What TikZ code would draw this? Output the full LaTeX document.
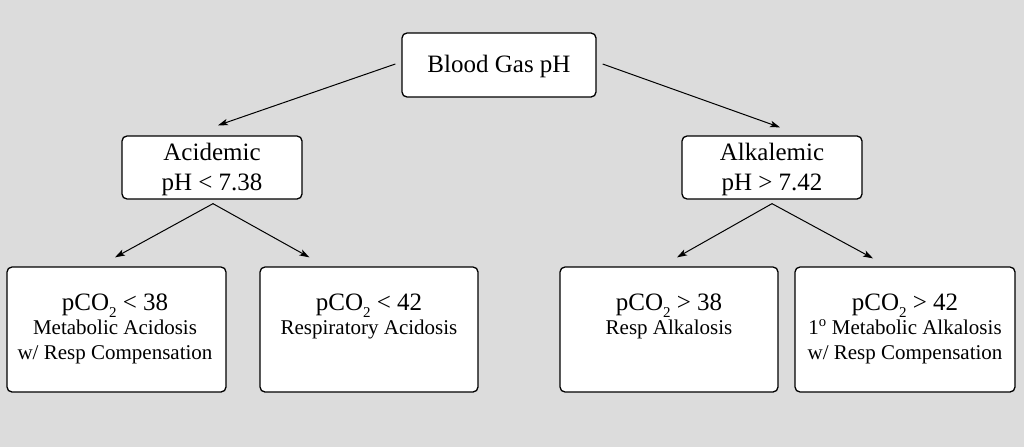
\documentclass[tikz,border=0pt]{standalone}
\usepackage{fontspec}
\setmainfont{Liberation Serif}
\usetikzlibrary{arrows.meta}
\definecolor{bggray}{HTML}{DCDCDC}
\newcommand{\subtwo}{\raisebox{-7pt}{\fontsize{15}{15}\selectfont 2}}
\tikzset{
  box/.style={draw=black, fill=white, line width=1.3pt, rounded corners=5pt, inner sep=0pt},
  big/.style={font=\fontsize{25}{30}\selectfont, anchor=base, inner sep=0pt},
  small/.style={font=\fontsize{21}{25}\selectfont, anchor=base, inner sep=0pt},
  conn/.style={line width=1pt, -{Stealth[length=10pt,width=6.5pt,inset=2.5pt]}}
}
\begin{document}
\begin{tikzpicture}[x=1pt,y=-1pt]
\fill[bggray] (0,0) rectangle (1024,447);
\useasboundingbox (0,0) rectangle (1024,447);
% boxes
\node[box, minimum width=194pt, minimum height=64pt] (bg) at (499,65) {};
\node[box, minimum width=180pt, minimum height=63pt] (acid) at (212,167.5) {};
\node[box, minimum width=180pt, minimum height=63pt] (alk) at (772,167.5) {};
\node[box, minimum width=219pt, minimum height=125pt] (b1) at (116.5,329.5) {};
\node[box, minimum width=218pt, minimum height=125pt] (b2) at (369,329.5) {};
\node[box, minimum width=218pt, minimum height=125pt] (b3) at (669,329.5) {};
\node[box, minimum width=220pt, minimum height=125pt] (b4) at (905,329.5) {};
% texts
\node[big] (tbg) at (499,72) {Blood Gas pH};
\node[big] (ta1) at (212,160) {Acidemic};
\node[big] (ta2) at (212,190) {pH < 7.38};
\node[big] (tk1) at (772,160) {Alkalemic};
\node[big] (tk2) at (772,190) {pH > 7.42};
\node[big] (t11) at (115,310) {pCO\subtwo{} < 38};
\node[small] (t12) at (115,334) {Metabolic Acidosis};
\node[small] (t13) at (115,359) {w/ Resp Compensation};
\node[big] (t21) at (369,310) {pCO\subtwo{} < 42};
\node[small] (t22) at (369,334) {Respiratory Acidosis};
\node[big] (t31) at (669,310) {pCO\subtwo{} > 38};
\node[small] (t32) at (669,334) {Resp Alkalosis};
\node[big] (t41) at (905,310) {pCO\subtwo{} > 42};
\node[small] (t42) at (905,334) {1\textsuperscript{o} Metabolic Alkalosis};
\node[small] (t43) at (905,359) {w/ Resp Compensation};
% connectors
\draw[conn] ([xshift=-6pt,yshift=1pt]bg.west) -- ([xshift=6pt,yshift=10pt]acid.north);
\draw[conn] ([xshift=6pt,yshift=1pt]bg.east) -- ([xshift=8pt,yshift=8pt]alk.north);
\draw[conn] ([xshift=1pt,yshift=-4pt]acid.south) -- ([xshift=-1.5pt,yshift=9pt]b1.north);
\draw[conn] ([xshift=1pt,yshift=-4pt]acid.south) -- ([xshift=50pt,yshift=9pt]b2.north west);
\draw[conn] ([yshift=-4pt]alk.south) -- ([xshift=8pt,yshift=9pt]b3.north);
\draw[conn] ([yshift=-4pt]alk.south) -- ([xshift=-32pt,yshift=8pt]b4.north);
\end{tikzpicture}
\end{document}
